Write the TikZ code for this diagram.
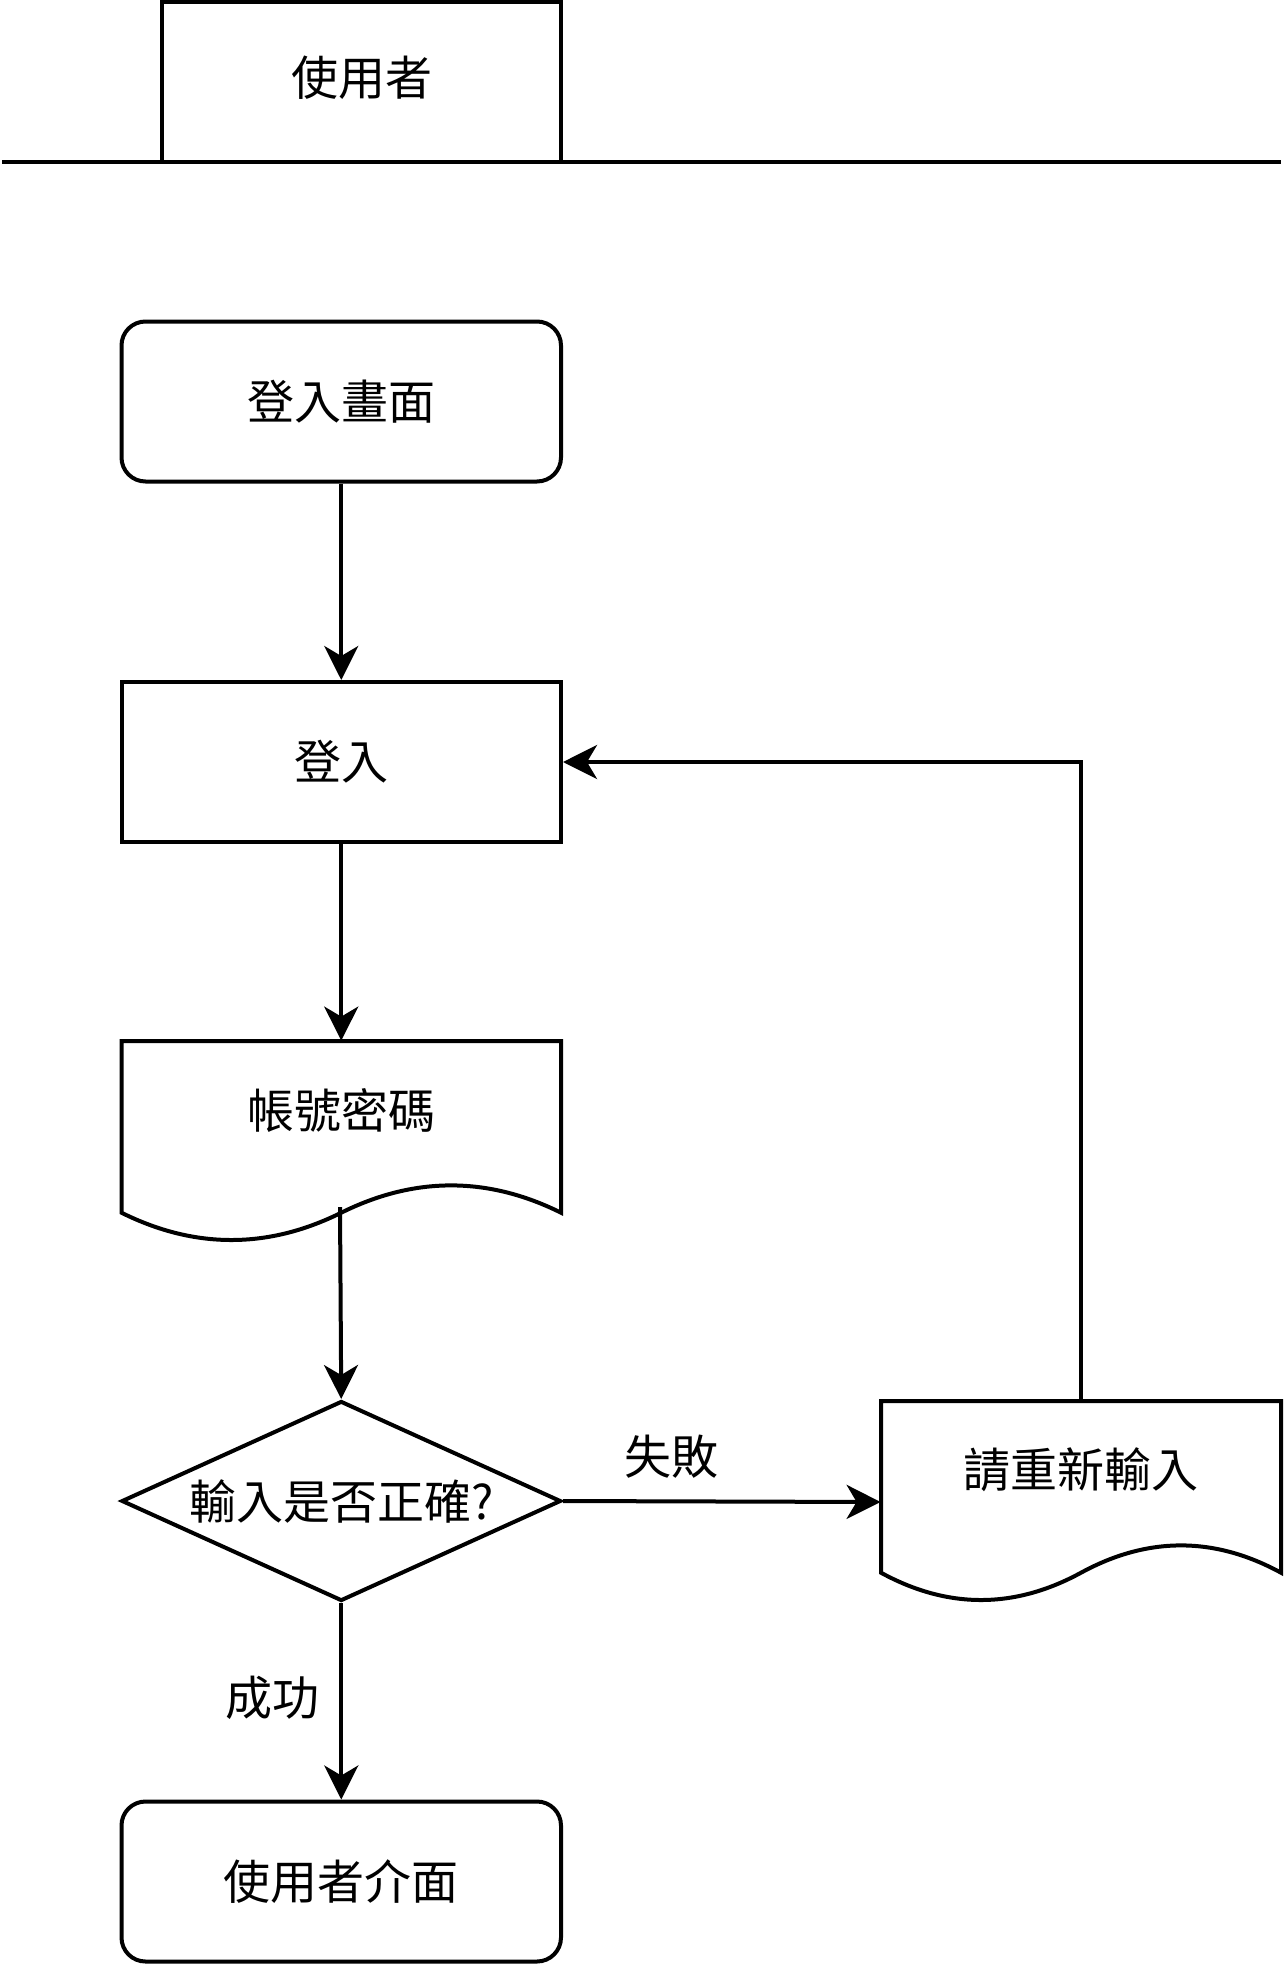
\documentclass[tikz,border=0pt]{standalone}
\usepackage{fontspec}
\setmainfont{Noto Sans CJK TC}
\usetikzlibrary{arrows.meta,shapes.geometric}
\begin{document}
\begin{tikzpicture}[x=0.5pt,y=-0.5pt,
  txt/.style={font=\fontsize{23.5}{28}\selectfont, inner sep=0pt},
  stepbox/.style={txt, draw, line width=2pt, minimum width=219.75pt, minimum height=80pt},
  roundbox/.style={stepbox, rounded corners=12pt},
  decision/.style={txt, draw, diamond, line width=2pt, aspect=2.2,
    minimum width=219.75pt, minimum height=100pt},
  docframe/.style={draw=none, minimum height=101pt, inner sep=0pt},
  outline/.style={line width=2pt, line join=miter},
  conn/.style={draw, line width=2pt, -{Stealth[length=17pt, width=17pt, inset=5pt]}},
  lbl/.style={txt}
]
\useasboundingbox (0,0) rectangle (1288,1964);

% swimlane header
\node[stepbox, minimum width=199.5pt] (lane) at (361.5,82) {};
\node[txt] (laneText) at (361.5,78) {使用者};
\coordinate (laneL) at (2,162);
\coordinate (laneR) at (1281,162);
\draw[outline] (laneL) -- (laneR);

% process nodes
\node[roundbox] (start) at (341.25,401.5) {登入畫面};
\node[stepbox] (login) at (341.25,762) {登入};

% document: account and password
\node[docframe, minimum width=219.75pt] (doc1) at (341.25,1142) {};
\draw[outline, fill=white] (121.5,1041) -- (561,1041) -- (561,1212.7)
  .. controls (487.75,1176.3) and (414.5,1176.3) .. (341.25,1212.7)
  .. controls (268,1249.1) and (194.75,1249.1) .. (121.5,1212.7) -- cycle;
\node[txt] (doc1Text) at (341.25,1111) {帳號密碼};
\coordinate (doc1Out) at (340,1207);

% decision
\node[decision] (check) at (341.25,1501) {輸入是否正確?};

% document: retry
\node[docframe, minimum width=200pt] (doc2) at (1081,1502) {};
\draw[outline, fill=white] (881,1401) -- (1281,1401) -- (1281,1572.7)
  .. controls (1214.3,1536.3) and (1147.7,1536.3) .. (1081,1572.7)
  .. controls (1014.3,1609.1) and (947.7,1609.1) .. (881,1572.7) -- cycle;
\node[txt] (doc2Text) at (1081,1470) {請重新輸入};
\coordinate (loopTop) at (1081,762);

% end node
\node[roundbox] (done) at (341.25,1881.5) {使用者介面};

% connectors
\draw[conn] (start) -- (login);
\draw[conn] (login) -- (doc1.north);
\draw[conn] (doc1Out) -- (check.north);
\draw[conn] (check.east) -- (doc2.west);
\draw[conn] (doc2.north) -- (loopTop) -- (login.east);
\draw[conn] (check.south) -- (done);

% edge labels
\node[lbl] (failLbl) at (671,1457) {失敗};
\node[lbl] (okLbl) at (272,1698) {成功};
\end{tikzpicture}
\end{document}
